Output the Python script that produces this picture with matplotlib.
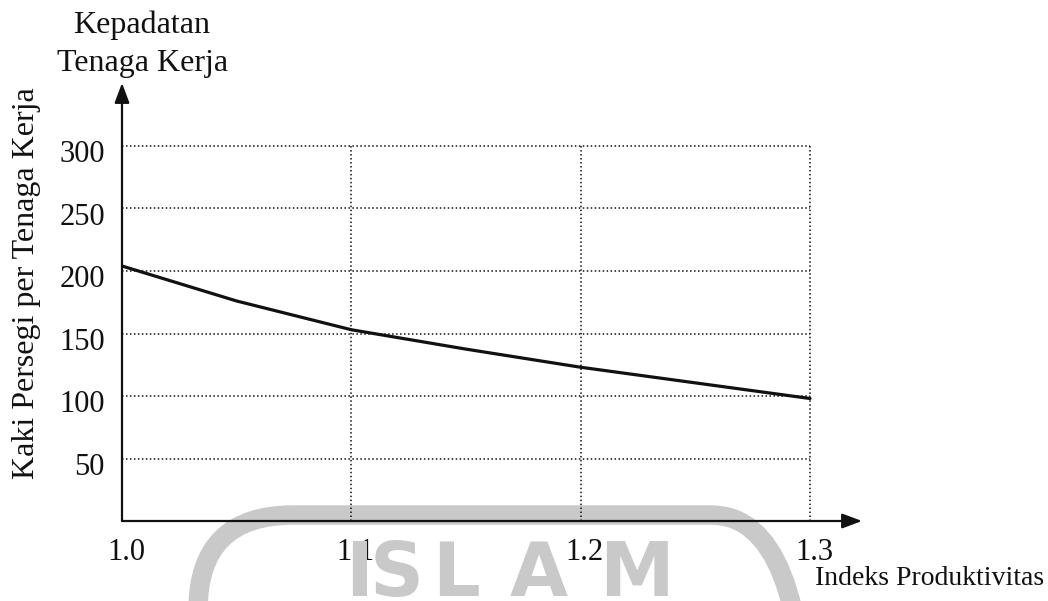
import matplotlib
matplotlib.use("Agg")
import matplotlib.pyplot as plt
import matplotlib.transforms as mtransforms
from matplotlib.patches import FancyBboxPatch

# ── Data ───────────────────────────────────────────────────────────────────

indeks    = [1.0, 1.05, 1.1, 1.15, 1.2, 1.25, 1.3]        # Indeks Produktivitas
kaki      = [204, 176, 153, 137.5, 123, 110.5, 98]         # kaki persegi / tenaga kerja
x_ticks   = [1.0, 1.1, 1.2, 1.3]
x_labels  = ["1.0", "1.1", "1.2", "1.3"]
y_ticks   = [50, 100, 150, 200, 250, 300]
y_labels  = ["50", "100", "150", "200", "250", "300"]

# ── Style ──────────────────────────────────────────────────────────────────

plt.rcParams["font.family"] = ["Liberation Serif", "DejaVu Serif"]
INK   = "#111111"
WMARK = "#c9c9c9"
FS    = 22

W, H = 1048, 601
fig = plt.figure(figsize=(W / 100, H / 100), dpi=100)

# axes spans from the origin (px 122, 521) to the arrow tips (862, 83)
ax = fig.add_axes([122 / W, (H - 521) / H, 740 / W, 438 / H])
x_max = 1.0 + 740 * 0.3 / 688
y_max = 438 * 300 / 375
ax.set_xlim(1.0, x_max)
ax.set_ylim(0, y_max)
ax.axis("off")

# ── Watermark (faint logo behind the chart) ────────────────────────────────

ident = mtransforms.IdentityTransform()
ring = FancyBboxPatch(
    (198, -250), 608, H - 515 + 250,
    boxstyle="round,pad=0,rounding_size=95",
    transform=ident, facecolor="none", edgecolor=WMARK,
    linewidth=14, zorder=0,
)
fig.add_artist(ring)
for ch, cx in zip("ISLAM", [359, 397, 456, 539, 636]):
    fig.text(cx / W, (H - 596) / H, ch, ha="center", va="baseline",
             fontsize=54, fontweight="bold", family="DejaVu Sans",
             color=WMARK, zorder=0)

# ── Grid ───────────────────────────────────────────────────────────────────

dots = (0, (1, 1.6))
ax.hlines(y_ticks, 1.0, x_ticks[-1], colors=INK, linewidth=1.1,
          linestyles=dots, zorder=1)
ax.vlines(x_ticks[1:], 0, y_ticks[-1], colors=INK, linewidth=1.1,
          linestyles=dots, zorder=1)

# ── Axes with arrows ───────────────────────────────────────────────────────

arrow = dict(arrowstyle="-|>,head_length=0.8,head_width=0.3",
             mutation_scale=15, color=INK, linewidth=1.6,
             shrinkA=0, shrinkB=0)
ax.annotate("", xy=(x_max, 0), xytext=(1.0, 0), arrowprops=arrow, zorder=3)
ax.annotate("", xy=(1.0, y_max), xytext=(1.0, 0), arrowprops=arrow, zorder=3)

# ── Curve ──────────────────────────────────────────────────────────────────

ax.plot(indeks, kaki, color=INK, linewidth=2.3, solid_capstyle="round", zorder=4)

# ── Tick labels ────────────────────────────────────────────────────────────

ytr = mtransforms.offset_copy(ax.get_yaxis_transform(), fig=fig, x=-17, y=-9, units="dots")
for v, lab in zip(y_ticks, y_labels):
    ax.text(0, v, lab, transform=ytr, ha="right", va="center",
            fontsize=FS, color=INK, clip_on=False)

xtr = mtransforms.offset_copy(ax.get_xaxis_transform(), fig=fig, x=4, y=-31, units="dots")
for v, lab in zip(x_ticks, x_labels):
    ax.text(v, 0, lab, transform=xtr, ha="center", va="center",
            fontsize=FS, color=INK, clip_on=False)

# ── Titles ─────────────────────────────────────────────────────────────────

fig.text(142 / W, (H - 33) / H, "Kepadatan", ha="center", va="baseline",
         fontsize=23, color=INK)
fig.text(143 / W, (H - 71) / H, "Tenaga Kerja", ha="center", va="baseline",
         fontsize=23, color=INK)
fig.text(27 / W, (H - 283) / H, "Kaki Persegi per Tenaga Kerja", rotation=90,
         ha="center", va="center", fontsize=23, color=INK)
fig.text(930 / W, (H - 585) / H, "Indeks Produktivitas", ha="center",
         va="baseline", fontsize=20, color=INK)

fig.savefig("out.png", dpi=100)
